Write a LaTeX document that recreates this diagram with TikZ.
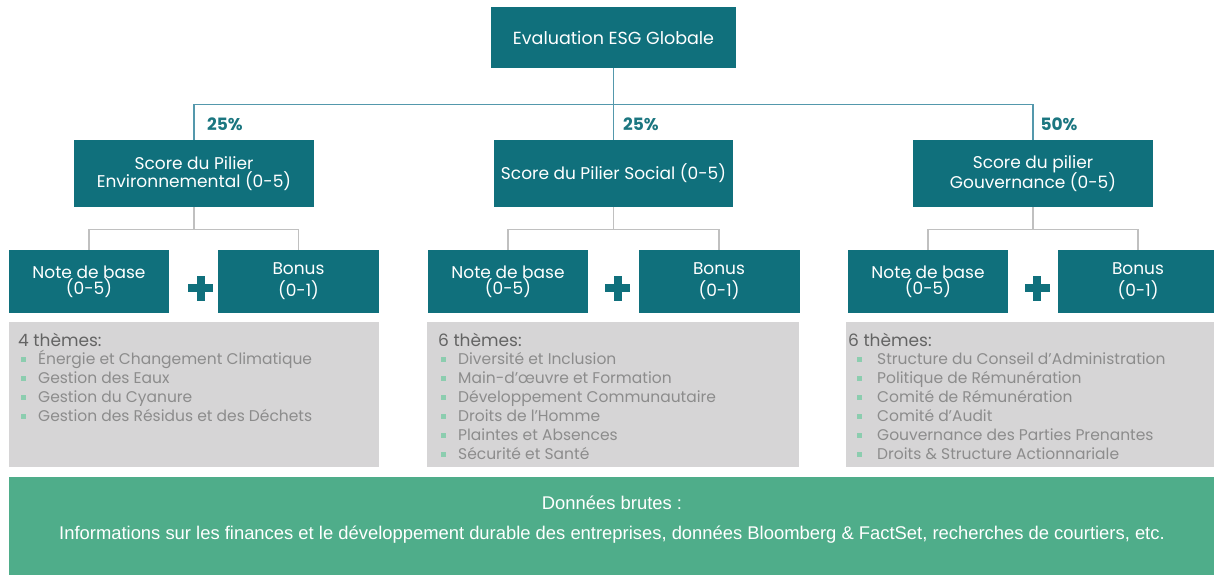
\documentclass[tikz,border=0pt]{standalone}
\usepackage{fontspec}
\setmainfont{Poppins}
\newfontfamily\rawfont{Liberation Sans}
\usepackage{graphicx}
\definecolor{boxteal}{RGB}{16,112,124}
\definecolor{topline}{RGB}{84,152,172}
\definecolor{pcttext}{RGB}{27,118,128}
\definecolor{grayline}{RGB}{192,192,192}
\definecolor{graybox}{RGB}{214,213,214}
\definecolor{themetext}{RGB}{140,140,140}
\definecolor{headtext}{RGB}{100,100,100}
\definecolor{bulletgreen}{RGB}{140,205,175}
\definecolor{rawgreen}{RGB}{79,173,138}
\tikzset{
  tealbox/.style={fill=boxteal, text=white, inner sep=0pt, align=center,
    font=\fontsize{17}{19}\selectfont},
  topconn/.style={draw=topline, line width=1.2pt},
  lowconn/.style={draw=grayline, line width=1.2pt},
  pct/.style={text=pcttext, font=\bfseries\fontsize{17}{19}\selectfont, inner sep=0pt},
  themebox/.style={fill=graybox, inner sep=0pt, minimum height=145pt},
  themehead/.style={text=headtext, font=\fontsize{17}{19}\selectfont, inner sep=0pt, anchor=base west},
  themeitem/.style={text=themetext, font=\fontsize{15.5}{18}\selectfont, inner sep=0pt, anchor=base west},
  plussign/.style={fill=boxteal},
  rawtxt/.style={text=white, inner sep=0pt, font=\rawfont\fontsize{18.4}{20}\selectfont},
}
\newcommand\plusat[2]{%
  \fill[plussign] (#1-12.5,#2-4) rectangle (#1+12.5,#2+4);
  \fill[plussign] (#1-4,#2-12.5) rectangle (#1+4,#2+12.5);}
\begin{document}
\begin{tikzpicture}[x=1pt,y=-1pt]
\useasboundingbox (0,0) rectangle (1214,574);
\clip (0,0) rectangle (1214,574);
\fill[white] (0,0) rectangle (1214,574);

% top
\node[tealbox, minimum width=245pt, minimum height=61pt,
  font=\fontsize{17.5}{20}\selectfont] (top) at (613.5,37.5) {Evaluation ESG Globale};

% pillars
\node[tealbox, minimum width=240pt, minimum height=67pt] (env) at (194,173.5)
  {Score du Pilier\\[-1pt]Environnemental (0-5)};
\node[tealbox, minimum width=239pt, minimum height=67pt] (soc) at (613.5,173.5)
  {Score du Pilier Social (0-5)};
\node[tealbox, minimum width=240pt, minimum height=67pt] (gov) at (1033,173.5)
  {Score du pilier\\[-1pt]Gouvernance (0-5)};

\draw[topconn] (top.south) -- ++(0,36) coordinate (bus);
\draw[topconn] (env.north) |- (bus) -| (gov.north);
\draw[topconn] (bus) -- (soc.north);

\node[pct] (penv) at (225,124) {25\%};
\node[pct] (psoc) at (641,124) {25\%};
\node[pct] (pgov) at (1059,124) {50\%};

% sub boxes
\foreach \n/\cx/\bx/\pl in {env/89/298.5/200.5, soc/508/719/617.5, gov/928/1138/1037}{
  \node[tealbox, minimum width=160pt, minimum height=63pt] (\n note) at (\cx,281.5)
    {Note de base\\[-3pt](0-5)};
  \node[tealbox, minimum width=161pt, minimum height=63pt] (\n bonus) at (\bx,281.5)
    {Bonus\\[3pt](0-1)};
  \draw[lowconn] (\n.south) -- ++(0,22) coordinate (\n bus);
  \draw[lowconn] (\n note.north) |- (\n bus) -| (\n bonus.north);
  \plusat{\pl}{288}
}

% theme boxes
\node[themebox, minimum width=370pt, anchor=north west] (envthemes) at (9,322) {};
\node[themebox, minimum width=372pt, anchor=north west] (socthemes) at (427,322) {};
\node[themebox, minimum width=380pt, anchor=north west] (govthemes) at (846,322) {};

\node[themehead] (envhead) at (18,346) {4 thèmes:};
\node[themehead] (sochead) at (438,346) {6 thèmes:};
\node[themehead] (govhead) at (848,346) {6 thèmes:};

\foreach \t [count=\i] in {Énergie et Changement Climatique, Gestion des Eaux,
  Gestion du Cyanure, Gestion des Résidus et des Déchets}{
  \fill[bulletgreen] (21,338+19*\i) rectangle (26,343+19*\i);
  \node[themeitem] (envitem\i) at (38,364+19*\i-19) {\t};
}
\foreach \t [count=\i] in {Diversité et Inclusion, Main-d’œuvre et Formation,
  Développement Communautaire, Droits de l’Homme, Plaintes et Absences, Sécurité et Santé}{
  \fill[bulletgreen] (441,338+19*\i) rectangle (446,343+19*\i);
  \node[themeitem] (socitem\i) at (458,364+19*\i-19) {\t};
}
\foreach \t [count=\i] in {Structure du Conseil d’Administration, Politique de Rémunération,
  Comité de Rémunération, Comité d’Audit, Gouvernance des Parties Prenantes,
  Droits \& Structure Actionnariale}{
  \fill[bulletgreen] (857,338+19*\i) rectangle (862,343+19*\i);
  \node[themeitem] (govitem\i) at (877,364+19*\i-19) {\t};
}

% raw data
\node[fill=rawgreen, inner sep=0pt, minimum width=1211pt, minimum height=103pt,
  anchor=north west] (raw) at (9,477) {};
\node[rawtxt] (rawtitle) at (612,503) {Données brutes :};
\node[rawtxt] (rawtext) at (612,535)
  {Informations sur les finances et le développement durable des entreprises, données Bloomberg \& FactSet, recherches de courtiers, etc.};
\end{tikzpicture}
\end{document}
